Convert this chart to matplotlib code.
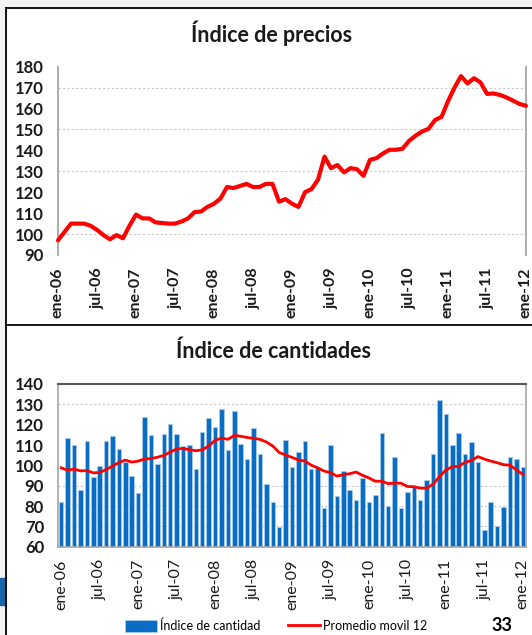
import matplotlib.pyplot as plt
import matplotlib.lines as mlines
import matplotlib.patches as mpatches
import numpy as np

plt.rcParams['font.family'] = ['Lato', 'DejaVu Sans']

# ── datos ────────────────────────────────────────────────────────────
MESES = ["ene", "feb", "mar", "abr", "may", "jun",
         "jul", "ago", "sep", "oct", "nov", "dic"]
fechas = [f"{MESES[i % 12]}-{6 + i // 12:02d}" for i in range(73)]  # ene-06 .. ene-12

precios = [97, 101, 105, 105, 105, 104, 102, 99.5, 97.5, 99.5, 98, 104,
           109.3, 107.5, 107.5, 105.6, 105.3, 105, 105, 106, 107.5, 110.5, 110.8, 113,
           114.5, 117, 122.5, 122, 123, 124, 122.5, 122.5, 124, 124, 115.5, 116.7,
           114.5, 113, 120, 121.5, 126, 137, 131.5, 133, 129.5, 131.5, 131, 127.8,
           135.5, 136.3, 138.5, 140.3, 140.3, 140.8, 144.5, 147, 149, 150.3, 154.5, 156,
           163.5, 170, 175.5, 172, 174.5, 172.5, 167, 167.2, 166.5, 165.3, 163.8, 162.2,
           161.3]

cantidad = [81.8, 113.3, 110, 87.9, 112, 94.3, 99.5, 112, 114.3, 108.2, 101.5, 94.9,
            86.2, 124, 115, 100.8, 115.6, 120.2, 115.6, 109.7, 110, 98, 116.6, 123.1,
            118.7, 127.5, 107.5, 126.9, 110.5, 103.1, 118.2, 105.6, 90.7, 81.8, 69.7, 112.3,
            99.2, 106.7, 111.8, 98, 98.9, 79.2, 110, 84.9, 97.4, 88, 83, 93.6,
            81.8, 85.4, 116.1, 79.8, 104.3, 79.2, 86.7, 89.5, 82.8, 92.8, 105.4, 132.1,
            125.4, 110, 115.9, 105.4, 111.6, 101.5, 68, 82.1, 70.3, 79.7, 104.3, 103,
            99.2]

promedio12 = [98.8, 97.6, 98.2, 97.3, 97.4, 96.3, 96.5, 97.9, 99.6, 101.4, 102.6, 101.6,
              102.1, 103.1, 103.3, 104, 104.9, 106.5, 108, 108.3, 107.7, 107.2, 107.6, 109.5,
              112.3, 113.4, 112.8, 114.7, 114.3, 113.7, 113.3, 112.8, 111.5, 109.5, 106.3, 105.1,
              103.9, 102.6, 102.1, 100.1, 98.8, 97.2, 96.4, 94.7, 95.4, 95.9, 96.7, 95.1,
              93.8, 92.2, 92.2, 91, 91.3, 91.2, 89.6, 89.5, 88.8, 88.8, 90.7, 94.4,
              97.7, 99.3, 99.5, 101.5, 102.4, 104.3, 103.1, 102.1, 101.3, 100.3, 100.1, 97.8,
              95.5]

x = np.arange(len(fechas))
tick_pos = x[::6]
tick_lab = fechas[::6]

ROJO = "#FF0000"
AZUL = "#0A6DC4"
GRIS = "#a6a6a6"

W, H = 532, 635
fig = plt.figure(figsize=(W / 100, H / 100), dpi=100)
fig.patch.set_facecolor("white")

def fx(px): return px / W
def fy(py): return 1 - py / H

# ── marco / fondo ────────────────────────────────────────────────────
fig.add_artist(mpatches.Rectangle((0, 0), fx(6), 1, transform=fig.transFigure,
                                  color="#f3f3f3", zorder=0))
fig.add_artist(mpatches.Rectangle((0, fy(8)), 1, 8 / H, transform=fig.transFigure,
                                  color="#f3f3f3", zorder=0))
fig.add_artist(mpatches.Rectangle((0, fy(605)), fx(5), 27 / H, transform=fig.transFigure,
                                  color="#1767a8", zorder=1))
for seg in [((6, 6), (8, H)), ((6, W), (8, 8)), ((6, W), (325, 325))]:
    fig.add_artist(mlines.Line2D([fx(seg[0][0]), fx(seg[0][1])],
                                 [fy(seg[1][0]), fy(seg[1][1])],
                                 transform=fig.transFigure, color="black", lw=1.3))

# ── panel superior: Índice de precios ───────────────────────────────
ax1 = fig.add_axes([fx(58), fy(255), fx(526) - fx(58), (255 - 66.7) / H])
for v in [100, 130, 150, 170]:
    ax1.axhline(v, color="#c8c8c8", lw=0.8, ls=(0, (2, 2)), zorder=0)
ax1.plot(x, precios, color=ROJO, lw=3, solid_joinstyle="round",
         solid_capstyle="round", clip_on=False, zorder=3)
ax1.set_xlim(0, 72)
ax1.set_ylim(90, 180)
ax1.set_yticks(range(90, 181, 10))
ax1.set_xticks(tick_pos)
ax1.set_xticklabels(tick_lab, rotation=90, fontsize=11.5, fontweight="bold")
for t in ax1.get_yticklabels():
    t.set_fontsize(12)
    t.set_fontweight("bold")
ax1.tick_params(length=0, pad=10, colors="#1a1a1a")
ax1.tick_params(axis="x", pad=9)
for s in ["top", "bottom"]:
    ax1.spines[s].set_visible(False)
for s in ["left", "right"]:
    ax1.spines[s].set_color(GRIS)
    ax1.spines[s].set_linewidth(1.3)
fig.text(fx(272), fy(33), "Índice de precios", ha="center", va="center",
         fontsize=15.5, fontweight="bold", color="#1a1a1a")

# ── panel inferior: Índice de cantidades ────────────────────────────
ax2 = fig.add_axes([fx(58), fy(546.7), fx(526) - fx(58), (546.7 - 384) / H])
for v in [70, 80, 90, 130]:
    ax2.axhline(v, color="#c8c8c8", lw=0.8, ls=(0, (2, 2)), zorder=0)
barras = ax2.bar(x, cantidad, width=0.7, color=AZUL, edgecolor="#a9cdef", lw=0.6,
                 zorder=2)
linea, = ax2.plot(x, promedio12, color=ROJO, lw=2, zorder=3)
ax2.set_xlim(-0.5, 72.5)
ax2.set_ylim(60, 140)
ax2.set_yticks(range(60, 141, 10))
ax2.set_xticks(tick_pos)
ax2.set_xticklabels(tick_lab, rotation=90, fontsize=11.5)
for t in ax2.get_yticklabels():
    t.set_fontsize(12)
    t.set_fontweight("bold")
ax2.tick_params(length=0, pad=10, colors="#1a1a1a")
ax2.tick_params(axis="x", pad=9)
ax2.spines["top"].set_color("#595959")
ax2.spines["top"].set_linewidth(1.5)
for s in ["left", "right", "bottom"]:
    ax2.spines[s].set_color(GRIS)
    ax2.spines[s].set_linewidth(1.2)
fig.text(fx(274), fy(351), "Índice de cantidades", ha="center", va="center",
         fontsize=15.5, fontweight="bold", color="#1a1a1a")

fig.legend([barras, linea], ["Índice de cantidad", "Promedio movil 12"],
           loc="center", bbox_to_anchor=(fx(276), fy(626)), ncol=2,
           frameon=False, fontsize=9, handlelength=2.6, handleheight=1.0,
           handletextpad=0.2, columnspacing=2.2)

fig.text(fx(502), fy(634), "33", ha="center", va="bottom", fontsize=13,
         fontweight="bold", color="black")

fig.savefig("out.png", dpi=100)
